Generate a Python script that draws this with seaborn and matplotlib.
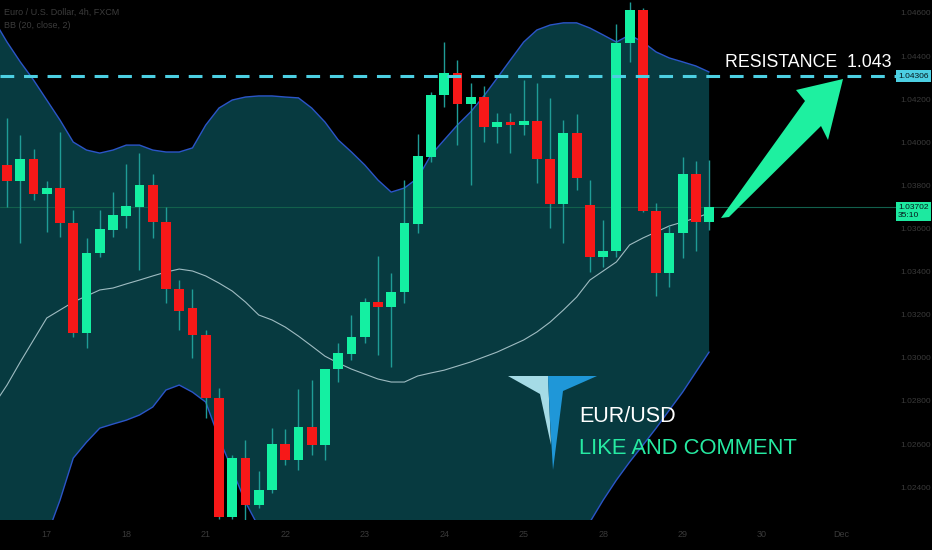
import numpy as np
import pandas as pd
import seaborn as sns
import matplotlib
matplotlib.use("Agg")
from matplotlib import pyplot as plt
from matplotlib.patches import Polygon
from matplotlib.transforms import blended_transform_factory, offset_copy

# EUR/USD 4h candles, 17 Nov - 29 Nov
opens = [1.03895, 1.03820, 1.03922, 1.03760, 1.03788, 1.03625, 1.03115, 1.03486, 1.03593, 1.03658,
         1.03700, 1.03802, 1.03630, 1.03319, 1.03231, 1.03106, 1.02814, 1.02261, 1.02535, 1.02317,
         1.02387, 1.02600, 1.02526, 1.02679, 1.02595, 1.02948, 1.03018, 1.03096, 1.03259, 1.03236,
         1.03305, 1.03621, 1.03932, 1.04219, 1.04322, 1.04178, 1.04210, 1.04071, 1.04094, 1.04080,
         1.04099, 1.03922, 1.03714, 1.04043, 1.03709, 1.03468, 1.03495, 1.04461, 1.04614, 1.03681,
         1.03394, 1.03579, 1.03853, 1.03630]
highs = [1.04113, 1.04034, 1.03969, 1.03820, 1.04048, 1.03686, 1.03556, 1.03686, 1.03769, 1.03899,
         1.03950, 1.03853, 1.03700, 1.03361, 1.03319, 1.03129, 1.02860, 1.02549, 1.02619, 1.02475,
         1.02674, 1.02670, 1.02855, 1.02897, 1.02948, 1.03069, 1.03198, 1.03277, 1.03472, 1.03394,
         1.03825, 1.04038, 1.04233, 1.04465, 1.04382, 1.04275, 1.04261, 1.04136, 1.04136, 1.04289,
         1.04275, 1.04206, 1.04103, 1.04131, 1.03825, 1.03639, 1.04549, 1.04651, 1.04623, 1.03718,
         1.03616, 1.03932, 1.03913, 1.03918]
lows = [1.03700, 1.03533, 1.03732, 1.03584, 1.03561, 1.03096, 1.03045, 1.03468, 1.03561, 1.03602,
        1.03407, 1.03556, 1.03254, 1.03129, 1.02999, 1.02721, 1.02252, 1.02252, 1.02215, 1.02303,
        1.02373, 1.02503, 1.02479, 1.02549, 1.02526, 1.02888, 1.02990, 1.03069, 1.03013, 1.02957,
        1.03254, 1.03579, 1.03909, 1.04164, 1.03987, 1.03802, 1.04001, 1.03997, 1.03950, 1.04034,
        1.03811, 1.03602, 1.03533, 1.03779, 1.03398, 1.03421, 1.03468, 1.04372, 1.03677, 1.03287,
        1.03329, 1.03463, 1.03495, 1.03593]
closes = [1.03820, 1.03922, 1.03760, 1.03788, 1.03625, 1.03115, 1.03486, 1.03597, 1.03663, 1.03704,
          1.03802, 1.03630, 1.03319, 1.03217, 1.03106, 1.02814, 1.02261, 1.02535, 1.02317, 1.02387,
          1.02600, 1.02526, 1.02679, 1.02595, 1.02948, 1.03022, 1.03096, 1.03259, 1.03236, 1.03305,
          1.03625, 1.03936, 1.04219, 1.04322, 1.04178, 1.04210, 1.04071, 1.04094, 1.04080, 1.04099,
          1.03922, 1.03714, 1.04043, 1.03834, 1.03468, 1.03495, 1.04461, 1.04614, 1.03681, 1.03394,
          1.03579, 1.03853, 1.03630, 1.03702]

# bollinger bands, first value belongs to the bar before the first visible candle
bb_upper = [1.04568, 1.04465, 1.04373, 1.04289, 1.04196, 1.04103, 1.04001, 1.03964, 1.03950, 1.03964,
            1.03987, 1.03987, 1.03964, 1.03955, 1.03955, 1.03974, 1.04080, 1.04159, 1.04196, 1.04210,
            1.04215, 1.04215, 1.04210, 1.04206, 1.04159, 1.04094, 1.04011, 1.03955, 1.03895, 1.03825,
            1.03769, 1.03788, 1.03834, 1.03941, 1.04011, 1.04080, 1.04141, 1.04215, 1.04298, 1.04382,
            1.04465, 1.04521, 1.04544, 1.04554, 1.04554, 1.04530, 1.04498, 1.04465, 1.04498, 1.04465,
            1.04419, 1.04391, 1.04373, 1.04354, 1.04326]
bb_basis = [1.02781, 1.02874, 1.02981, 1.03083, 1.03185, 1.03222, 1.03259, 1.03287, 1.03315, 1.03324,
            1.03343, 1.03361, 1.03380, 1.03398, 1.03412, 1.03403, 1.03380, 1.03347, 1.03310, 1.03259,
            1.03199, 1.03176, 1.03143, 1.03101, 1.03055, 1.03008, 1.02976, 1.02948, 1.02925, 1.02902,
            1.02888, 1.02888, 1.02916, 1.02930, 1.02943, 1.02962, 1.02981, 1.03004, 1.03027, 1.03055,
            1.03083, 1.03120, 1.03166, 1.03222, 1.03282, 1.03361, 1.03403, 1.03445, 1.03524, 1.03556,
            1.03584, 1.03612, 1.03630, 1.03649, 1.03672]
bb_lower = [1.00995, 1.01282, 1.01589, 1.01876, 1.02173, 1.02340, 1.02535, 1.02609, 1.02674, 1.02693,
            1.02711, 1.02735, 1.02772, 1.02851, 1.02874, 1.02841, 1.02795, 1.02628, 1.02480, 1.02331,
            1.02215, 1.02136, 1.02076, 1.01997, 1.01951, 1.01923, 1.01941, 1.01941, 1.01955, 1.01978,
            1.02006, 1.01988, 1.01997, 1.01918, 1.01876, 1.01844, 1.01821, 1.01793, 1.01756, 1.01728,
            1.01700, 1.01719, 1.01788, 1.01890, 1.02011, 1.02238, 1.02340, 1.02433, 1.02517, 1.02595,
            1.02674, 1.02758, 1.02841, 1.02934, 1.03027]

day_ticks = [3, 9, 15, 21, 27, 33, 39, 45, 51, 57, 63]
day_labels = ["17", "18", "21", "22", "23", "24", "25", "28", "29", "30", "Dec"]
price_ticks = [1.024, 1.026, 1.028, 1.030, 1.032, 1.034, 1.036, 1.038, 1.040, 1.042, 1.044, 1.046]

resistance = 1.04306
last_price = 1.03702
countdown = "35:10"

GREEN = "#14f0a2"
RED = "#f71818"
WICK = "#1f9c96"
BAND_FILL = "#073a40"
BAND_EDGE = "#2b55c8"
BASIS = "#9fbcc2"
CYAN = "#4ccfe2"
FAINT = "#3a3a3a"
TEXT_GREEN = "#26eaa2"

sns.set_theme(style="dark", rc={"axes.facecolor": "black", "figure.facecolor": "black"})
plt.rcParams["font.family"] = ["Liberation Sans", "DejaVu Sans"]

W, H = 932, 550


def fx(x):
    return x / W


def fy(y):
    return 1 - y / H


fig = plt.figure(figsize=(W / 100, H / 100), dpi=100)
ax = fig.add_axes([0, 30 / H, 880 / W, 520 / H])

df = pd.DataFrame({"open": opens, "high": highs, "low": lows, "close": closes})
df["x"] = np.arange(len(df))
bands = pd.DataFrame({"upper": bb_upper, "basis": bb_basis, "lower": bb_lower})
bands["x"] = np.arange(-1, len(bands) - 1)

ax.fill_between(bands["x"], bands["lower"], bands["upper"], color=BAND_FILL, lw=0, zorder=1)
sns.lineplot(data=bands, x="x", y="upper", ax=ax, color=BAND_EDGE, lw=1, zorder=2)
sns.lineplot(data=bands, x="x", y="lower", ax=ax, color=BAND_EDGE, lw=1, zorder=2)
sns.lineplot(data=bands, x="x", y="basis", ax=ax, color=BASIS, lw=0.8, zorder=2)

# last price line
ax.axhline(last_price, xmax=897 / 880, color="#12604c", lw=0.8, zorder=2, clip_on=False)

ax.vlines(df["x"], df["low"], df["high"], color=WICK, lw=1, zorder=3)
up = df["close"] >= df["open"]
body = (df["close"] - df["open"]).abs().clip(lower=0.00003)
ax.bar(df["x"], body, bottom=df[["open", "close"]].min(axis=1), width=0.74,
       color=np.where(up, GREEN, RED), linewidth=0, zorder=4)

ax.axhline(resistance, xmax=897 / 880, color=CYAN, lw=2.2, ls=(0, (4.5, 3.2)), zorder=5, clip_on=False)

ax.set_xlim(-0.53, 65.9)
ax.set_ylim(1.02248, 1.0466)
ax.set_xlabel("")
ax.set_ylabel("")
for s in ax.spines.values():
    s.set_visible(False)
ax.grid(False)

ax.yaxis.tick_right()
ax.set_yticks(price_ticks)
ax.set_yticklabels([f"{p:.5f}" for p in price_ticks])
ax.tick_params(axis="y", length=0, pad=15, labelsize=6, labelcolor=FAINT)
ax.set_xticks(day_ticks)
ax.set_xticklabels(day_labels)
ax.tick_params(axis="x", length=0, pad=7, labelsize=6.5, labelcolor=FAINT)

# price tags on the scale
tag = blended_transform_factory(ax.transAxes, ax.transData)
ax.text(898 / 880, resistance, f"{resistance:.5f}", transform=tag, ha="left", va="center",
        fontsize=6, color="#06181c", clip_on=False, zorder=6,
        bbox=dict(boxstyle="square,pad=0.3", fc=CYAN, ec="none"))
ax.text(898 / 880, last_price, f"{last_price:.5f}\n{countdown}",
        transform=offset_copy(tag, fig=fig, y=-5, units="dots"), ha="left", va="center",
        fontsize=6, color="#06181c", linespacing=1.15, clip_on=False, zorder=6,
        bbox=dict(boxstyle="square,pad=0.3", fc="#1de9a0", ec="none"))

# header
fig.text(fx(4), fy(15), "Euro / U.S. Dollar, 4h, FXCM", color="#3c3c3c", fontsize=6.5)
fig.text(fx(4), fy(28), "BB (20, close, 2)", color="#3c3c3c", fontsize=6.5)

# arrow to the resistance
arrow = [(721, 218), (805, 101), (796, 90), (843, 79), (828, 140), (821, 126), (729, 217)]
fig.add_artist(Polygon([(fx(x), fy(y)) for x, y in arrow], closed=True,
                       transform=fig.transFigure, fc="#1ef0a0", ec="none", zorder=6))
fig.text(fx(725), fy(67), "RESISTANCE  1.043", color="white", fontsize=12.8, ha="left", va="baseline")

# logo
pale = [(508, 376), (548, 376), (551, 445), (540, 394)]
blue = [(548, 376), (597, 376), (563, 391), (553, 470), (550, 420)]
fig.add_artist(Polygon([(fx(x), fy(y)) for x, y in pale], closed=True,
                       transform=fig.transFigure, fc="#a5dbe6", ec="none", zorder=6))
fig.add_artist(Polygon([(fx(x), fy(y)) for x, y in blue], closed=True,
                       transform=fig.transFigure, fc="#1f97d8", ec="none", zorder=6))
fig.text(fx(579), fy(422), "EUR/USD", color="white", fontsize=15.5, ha="left", va="baseline")
fig.text(fx(579), fy(454), "LIKE AND COMMENT", color=TEXT_GREEN, fontsize=15.8, ha="left", va="baseline")

fig.savefig("out.png", dpi=100, facecolor="black")
